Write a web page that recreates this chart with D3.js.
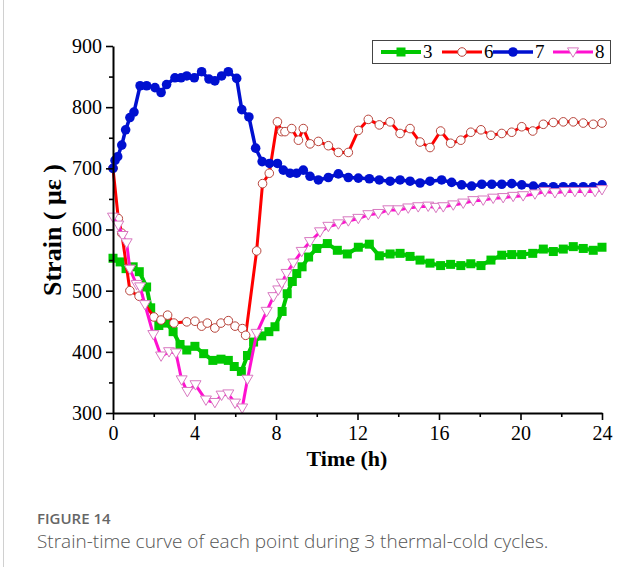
<!DOCTYPE html>
<html>
<head>
<meta charset="utf-8">
<script src="https://cdn.jsdelivr.net/npm/d3@7"></script>
<style>
  html, body { margin: 0; padding: 0; background: #fff; }
  svg { display: block; }
</style>
</head>
<body>
<svg id="chart" width="639" height="567"></svg>
<script>
// ---------- DATA ----------
const seriesNames = ["3", "6", "7", "8"];
const xTicks = [0, 4, 8, 12, 16, 20, 24];
const yTicks = [300, 400, 500, 600, 700, 800, 900];

const t3 = [0, 0.35, 0.64, 0.99, 1.29, 1.65, 1.85, 2.25, 2.63, 2.95, 3.29, 3.62, 4.02, 4.45, 4.9, 5.3, 5.66, 5.95, 6.3, 6.6, 6.9, 7.3, 7.65, 7.95, 8.3, 8.55, 8.8, 9.02, 9.28, 9.6, 10.0, 10.52, 11.01, 11.5, 12.04, 12.58, 13.07, 13.6, 14.09, 14.58, 15.07, 15.56, 16.08, 16.57, 17.07, 17.56, 18.06, 18.55, 19.08, 19.57, 20.06, 20.6, 21.12, 21.61, 22.1, 22.59, 23.08, 23.57, 24.0];
const v3 = [553, 547, 536, 539, 531, 506, 472, 443, 447, 433, 412, 403, 409, 397, 386, 388, 386, 376, 368, 394, 416, 426, 433, 441, 466, 495, 515, 528, 539, 555, 569, 577, 566, 560, 571, 576, 557, 560, 561, 556, 550, 545, 541, 543, 541, 544, 541, 550, 558, 559, 559, 561, 568, 564, 568, 572, 569, 566, 571];

const t6 = [0, 0.26, 0.43, 0.83, 1.28, 2.01, 2.36, 2.68, 2.99, 3.62, 4.02, 4.35, 4.63, 5.0, 5.3, 5.66, 5.99, 6.35, 6.51, 7.05, 7.34, 7.67, 8.07, 8.28, 8.44, 8.77, 9.1, 9.34, 9.67, 10.08, 10.57, 11.06, 11.55, 12.04, 12.53, 13.07, 13.6, 14.09, 14.58, 15.07, 15.56, 16.08, 16.57, 17.07, 17.56, 18.06, 18.55, 19.08, 19.57, 20.06, 20.6, 21.12, 21.61, 22.1, 22.59, 23.08, 23.57, 24.0];
const v6 = [700, 618, 594, 500, 491, 457, 452, 460, 447, 449, 450, 442, 447, 439, 447, 451, 442, 438, 427, 565, 675, 692, 776, 760, 760, 765, 746, 765, 740, 744, 737, 726, 726, 762, 780, 771, 776, 757, 765, 743, 734, 761, 741, 746, 759, 763, 754, 757, 759, 768, 761, 772, 775, 776, 776, 774, 772, 774];

const t7 = [0, 0.1, 0.23, 0.43, 0.62, 0.83, 1.03, 1.33, 1.65, 2.06, 2.36, 2.63, 3.04, 3.34, 3.62, 3.99, 4.35, 4.71, 5.0, 5.33, 5.66, 6.07, 6.32, 6.67, 7.0, 7.32, 7.68, 8.07, 8.36, 8.69, 9.01, 9.34, 9.67, 10.08, 10.57, 11.06, 11.55, 12.04, 12.58, 13.07, 13.6, 14.09, 14.58, 15.07, 15.56, 16.13, 16.62, 17.11, 17.6, 18.1, 18.59, 19.08, 19.57, 20.06, 20.63, 21.12, 21.61, 22.1, 22.59, 23.08, 23.57, 24.0];
const v7 = [700, 713, 719, 738, 763, 783, 792, 835, 835, 832, 824, 837, 848, 848, 851, 848, 858, 846, 843, 851, 858, 847, 796, 784, 733, 711, 708, 708, 697, 692, 692, 697, 687, 681, 685, 691, 685, 684, 683, 681, 679, 681, 679, 676, 679, 681, 677, 673, 671, 674, 674, 674, 675, 673, 671, 670, 670, 670, 670, 670, 670, 673];

const t8 = [0, 0.26, 0.47, 0.67, 0.83, 1.16, 1.33, 1.57, 1.98, 2.36, 2.75, 3.09, 3.37, 3.65, 4.05, 4.56, 5.0, 5.33, 5.66, 5.99, 6.34, 6.6, 7.05, 7.54, 7.87, 8.11, 8.28, 8.52, 8.85, 9.26, 9.67, 10.16, 10.57, 11.06, 11.55, 12.04, 12.53, 13.02, 13.51, 14.0, 14.49, 14.98, 15.47, 15.85, 16.21, 16.7, 17.19, 17.68, 18.17, 18.66, 19.15, 19.64, 20.13, 20.71, 21.2, 21.69, 22.18, 22.67, 23.16, 23.66, 24.0];
const v8 = [620, 607, 590, 578, 535, 510, 506, 477, 428, 393, 400, 398, 354, 335, 346, 321, 317, 329, 331, 316, 308, 355, 430, 466, 490, 501, 512, 528, 545, 564, 580, 596, 605, 609, 614, 618, 624, 626, 632, 632, 635, 637, 638, 636, 637, 640, 643, 647, 648, 651, 652, 654, 655, 658, 662, 660, 662, 662, 662, 662, 665];

// ---------- STYLE ----------
const styles = {
  "3": { color: "#00c800", width: 4,   marker: "square"   },
  "6": { color: "#ff0000", width: 3,   marker: "circle"   },
  "7": { color: "#0010d0", width: 3.5, marker: "dot"      },
  "8": { color: "#ff10d0", width: 3,   marker: "triangle" }
};
const seriesData = {
  "3": t3.map((t, i) => ({ t, v: v3[i] })),
  "6": t6.map((t, i) => ({ t, v: v6[i] })),
  "7": t7.map((t, i) => ({ t, v: v7[i] })),
  "8": t8.map((t, i) => ({ t, v: v8[i] }))
};

const svg = d3.select("#chart");
const plot = { left: 113, right: 602, top: 46, bottom: 413 };
const x = d3.scaleLinear().domain([0, 24]).range([plot.left, plot.right]);
const y = d3.scaleLinear().domain([300, 900]).range([plot.bottom, plot.top]);

// left border line of the figure panel
svg.append("line").attr("x1", 3.5).attr("x2", 3.5).attr("y1", 0).attr("y2", 567)
  .attr("stroke", "#d0d0d0").attr("stroke-width", 1);

function drawMarker(g, type, cx, cy, col) {
  if (type === "square") {
    g.append("rect").attr("x", cx - 4.5).attr("y", cy - 4.5).attr("width", 9).attr("height", 9)
      .attr("fill", col);
  } else if (type === "circle") {
    g.append("circle").attr("cx", cx).attr("cy", cy).attr("r", 4.3)
      .attr("fill", "#fff").attr("stroke", "#b8453c").attr("stroke-width", 1);
  } else if (type === "dot") {
    g.append("circle").attr("cx", cx).attr("cy", cy).attr("r", 4.8).attr("fill", col);
  } else if (type === "triangle") {
    const s = 5.5;
    g.append("path").attr("d", `M${cx - s},${cy - s * 0.75} L${cx + s},${cy - s * 0.75} L${cx},${cy + s * 0.95} Z`)
      .attr("fill", "#fff").attr("stroke", "#d878c0").attr("stroke-width", 1);
  }
}

const line = d3.line().x(d => x(d.t)).y(d => y(d.v));

seriesNames.forEach(name => {
  const st = styles[name];
  const g = svg.append("g");
  g.append("path").datum(seriesData[name]).attr("d", line)
    .attr("fill", "none").attr("stroke", st.color).attr("stroke-width", st.width)
    .attr("stroke-linejoin", "round");
  seriesData[name].forEach(d => drawMarker(g, st.marker, x(d.t), y(d.v), st.color));
});

// ---------- AXES ----------
const fontSerif = "'Liberation Serif', 'Times New Roman', serif";

svg.append("g").attr("transform", `translate(0,${plot.bottom})`)
  .call(d3.axisBottom(x).tickValues(xTicks).tickSize(7).tickSizeOuter(0).tickPadding(6));
svg.append("g").attr("transform", `translate(0,${plot.bottom})`)
  .call(d3.axisBottom(x).tickValues(d3.range(2, 24, 4)).tickSize(4).tickFormat("").tickSizeOuter(0))
  .select(".domain").remove();
svg.append("g").attr("transform", `translate(${plot.left},0)`)
  .call(d3.axisLeft(y).tickValues(yTicks).tickSize(7).tickSizeOuter(0).tickPadding(4));
svg.append("g").attr("transform", `translate(${plot.left},0)`)
  .call(d3.axisLeft(y).tickValues(d3.range(350, 900, 100)).tickSize(4).tickFormat("").tickSizeOuter(0))
  .select(".domain").remove();

svg.selectAll(".domain").attr("stroke", "#000").attr("stroke-width", 2);
svg.selectAll(".tick line").attr("stroke", "#000").attr("stroke-width", 1.6);
svg.selectAll(".tick text").attr("font-family", fontSerif).attr("font-size", 20).attr("fill", "#000");

// axis titles
svg.append("text").attr("x", 347).attr("y", 466).attr("text-anchor", "middle")
  .attr("font-family", fontSerif).attr("font-weight", "bold").attr("font-size", 22)
  .text("Time (h)");
svg.append("text").attr("transform", "translate(61,230) rotate(-90)").attr("text-anchor", "middle")
  .attr("font-family", fontSerif).attr("font-weight", "bold").attr("font-size", 26)
  .text("Strain ( με )");

// ---------- LEGEND ----------
const lg = svg.append("g");
lg.append("rect").attr("x", 372.5).attr("y", 40.5).attr("width", 238).attr("height", 23)
  .attr("fill", "#fff").attr("stroke", "#444").attr("stroke-width", 1);
const legendX = [381, 442, 493, 553];
seriesNames.forEach((name, i) => {
  const st = styles[name];
  const x0 = legendX[i], cy = 52;
  lg.append("line").attr("x1", x0).attr("x2", x0 + 40).attr("y1", cy).attr("y2", cy)
    .attr("stroke", st.color).attr("stroke-width", st.width);
  drawMarker(lg, st.marker, x0 + 20, cy, st.color);
  lg.append("text").attr("x", x0 + 42).attr("y", cy + 6)
    .attr("font-family", fontSerif).attr("font-size", 19).text(name);
});

// ---------- CAPTION ----------
svg.append("text").attr("x", 37).attr("y", 524)
  .attr("font-family", "'Open Sans', sans-serif").attr("font-size", 15).attr("font-weight", 600)
  .attr("fill", "#666").text("FIGURE 14");
svg.append("text").attr("x", 37).attr("y", 548)
  .attr("font-family", "'Open Sans', sans-serif").attr("font-size", 19).attr("font-weight", 300)
  .attr("fill", "#555").text("Strain-time curve of each point during 3 thermal-cold cycles.");
</script>
</body>
</html>
